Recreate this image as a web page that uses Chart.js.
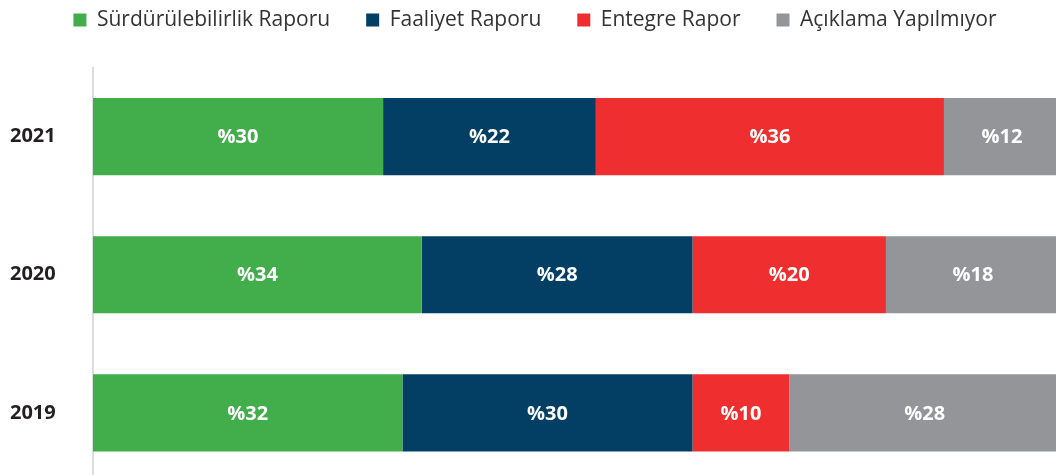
<!DOCTYPE html>
<html>
<head>
<meta charset="utf-8">
<script src="https://cdn.jsdelivr.net/npm/chart.js@4.4.1/dist/chart.umd.min.js"></script>
<style>
  html, body { margin: 0; padding: 0; background: #fff; overflow: hidden; }
  #wrap { position: absolute; left: 0; top: 0; width: 1060px; height: 497px; }
</style>
</head>
<body>
<div id="wrap"><canvas id="raporChart"></canvas></div>
<script>
var years = ["2021", "2020", "2019"];
var surdurulebilirlik = [30, 34, 32];
var faaliyet = [22, 28, 30];
var entegre = [36, 20, 10];
var aciklamaYok = [12, 18, 28];

// white percent labels in the middle of each segment
var barLabels = {
    id: "barLabels",
    afterDatasetsDraw: function (chart) {
        var ctx = chart.ctx;
        ctx.save();
        ctx.fillStyle = "#ffffff";
        ctx.font = "bold 20px 'Open Sans'";
        ctx.textAlign = "center";
        ctx.textBaseline = "middle";
        chart.data.datasets.forEach(function (ds, i) {
            chart.getDatasetMeta(i).data.forEach(function (bar, j) {
                var cx = (bar.x + bar.base) / 2;
                ctx.fillText("%" + ds.data[j], cx, bar.y + 1);
            });
        });
        ctx.restore();
    }
};

// fixed legend height so the bars sit lower
var legendHeight = {
    id: "legendHeight",
    beforeLayout: function (chart) {
        var lg = chart.legend;
        if (lg && !lg._patched) {
            var fit = lg.fit;
            lg.fit = function () {
                fit.call(this);
                this.height = 94;
            };
            lg._patched = true;
        }
    }
};

var ctx = document.getElementById("raporChart").getContext("2d");

var myChart = new Chart(ctx, {
    type: "bar",
    data: {
        labels: years,
        datasets: [
            { label: "Sürdürülebilirlik Raporu", data: surdurulebilirlik, backgroundColor: "#41ae4b" },
            { label: "Faaliyet Raporu", data: faaliyet, backgroundColor: "#033f64" },
            { label: "Entegre Rapor", data: entegre, backgroundColor: "#ee2e2f" },
            { label: "Açıklama Yapılmıyor", data: aciklamaYok, backgroundColor: "#939598" }
        ]
    },
    options: {
        indexAxis: "y",
        responsive: true,
        maintainAspectRatio: false,
        animation: false,
        barPercentage: 1,
        categoryPercentage: 0.558,
        layout: { padding: { left: 10, top: -26.5, right: 0, bottom: 0 } },
        scales: {
            x: {
                stacked: true,
                min: 0,
                max: 100,
                display: false
            },
            y: {
                stacked: true,
                grid: { display: false },
                border: { display: true, color: "#dddddd", width: 2 },
                ticks: {
                    crossAlign: "far",
                    color: "#231f20",
                    font: { family: "'Open Sans'", size: 20, weight: "bold" }
                },
                afterFit: function (scale) { scale.width = 83; }
            }
        },
        plugins: {
            legend: {
                position: "top",
                labels: {
                    boxWidth: 13,
                    boxHeight: 13,
                    padding: 36,
                    color: "#333333",
                    font: { family: "'Open Sans'", size: 21 }
                }
            },
            tooltip: { enabled: false }
        }
    },
    plugins: [barLabels, legendHeight]
});
</script>
</body>
</html>
